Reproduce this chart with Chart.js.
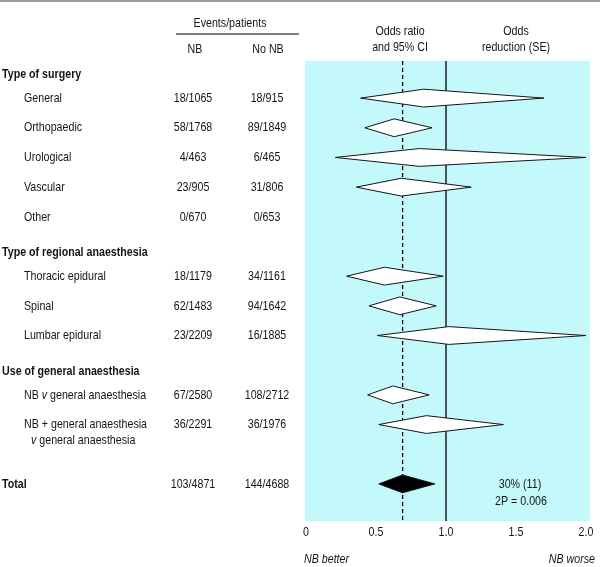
<!DOCTYPE html>
<html>
<head>
<meta charset="utf-8">
<script src="https://cdn.jsdelivr.net/npm/chart.js@4.4.0/dist/chart.umd.min.js"></script>
<style>
html, body { margin: 0; padding: 0; background: #fff; }
canvas { display: block; }
</style>
</head>
<body>
<canvas id="forestChart" width="600" height="567"></canvas>
<script>
// subgroup data
const groups = ['Type of surgery', 'Type of regional anaesthesia', 'Use of general anaesthesia'];
const groupSizes = [5, 3, 2];
const subgroups = ['General', 'Orthopaedic', 'Urological', 'Vascular', 'Other',
  'Thoracic epidural', 'Spinal', 'Lumbar epidural',
  'NB v general anaesthesia', 'NB + general anaesthesia\nv general anaesthesia'];
const nbEvents = ['18/1065', '58/1768', '4/463', '23/905', '0/670',
  '18/1179', '62/1483', '23/2209', '67/2580', '36/2291'];
const noNbEvents = ['18/915', '89/1849', '6/465', '31/806', '0/653',
  '34/1161', '94/1642', '16/1885', '108/2712', '36/1976'];
const orLow = [0.39, 0.42, 0.21, 0.36, null, 0.29, 0.45, 0.51, 0.44, 0.52];
const orMid = [0.84, 0.63, 0.81, 0.68, null, 0.56, 0.67, 1.02, 0.62, 0.86];
const orHigh = [1.70, 0.90, 2.00, 1.18, null, 0.98, 0.93, 2.00, 0.88, 1.41];

const totalNb = '103/4871';
const totalNoNb = '144/4688';
const totalOr = [0.52, 0.69, 0.92];
const totalReduction = ['30% (11)', '2P = 0.006'];
const xTicks = [0, 0.5, 1.0, 1.5, 2.0];

const FONT = '"Liberation Sans", Arial, sans-serif';
const SIZE = 13.5;
const NARROW = 0.79; // no narrow face installed, so squeeze the text
const INK = '#151515';
const Y_MIN = -0.25, Y_MAX = 15.25;
const DH = 0.3; // half height of a diamond, in rows

// row positions: header, its rows, then one blank row
const rowPos = [];
const headerPos = [];
let r = 0;
groupSizes.forEach(n => {
  headerPos.push(r + 0.2);
  for (let i = 0; i < n; i++) rowPos.push(++r);
  r++;
});
const totalPos = r + 1;

function diamond(lo, mid, hi, y, fillColor) {
  const line = { showLine: true, pointRadius: 0, borderColor: INK, borderWidth: 1, tension: 0, order: 0 };
  return [
    Object.assign({}, line, { data: [{x: lo, y}, {x: mid, y: y - DH}, {x: hi, y}], fill: false }),
    Object.assign({}, line, { data: [{x: lo, y}, {x: mid, y: y + DH}, {x: hi, y}], fill: '-1', backgroundColor: fillColor })
  ];
}

const datasets = [
  { data: [{x: 1, y: Y_MIN}, {x: 1, y: Y_MAX}], showLine: true, pointRadius: 0, borderColor: '#000', borderWidth: 1.3, order: 10 },
  { data: [{x: totalOr[1], y: Y_MIN}, {x: totalOr[1], y: Y_MAX}], showLine: true, pointRadius: 0, borderColor: '#000', borderWidth: 1.3, borderDash: [4, 3], order: 10 }
];
orMid.forEach((m, i) => {
  if (m == null) return;
  datasets.push(...diamond(orLow[i], m, orHigh[i], rowPos[i], '#ffffff'));
});
datasets.push(...diamond(totalOr[0], totalOr[1], totalOr[2], totalPos, '#000000'));

function text(ctx, s, x, y, style) {
  ctx.font = (style || '') + ' ' + SIZE + 'px ' + FONT;
  ctx.save();
  ctx.translate(x, y);
  ctx.scale(NARROW, 1);
  ctx.fillText(s, 0, 0);
  ctx.restore();
}

function drawWords(ctx, s, x, y) {
  // the "v" (versus) is set in italics
  let cx = x;
  s.split(' ').forEach((w, k, arr) => {
    const style = w === 'v' ? 'italic' : '';
    text(ctx, w, cx, y, style);
    ctx.font = style + ' ' + SIZE + 'px ' + FONT;
    cx += ctx.measureText(w + (k < arr.length - 1 ? ' ' : '')).width * NARROW;
  });
}

const tablePlugin = {
  id: 'table',
  beforeDraw(chart) {
    const {ctx, chartArea: a} = chart;
    ctx.save();
    ctx.fillStyle = '#c4f9fc';
    ctx.fillRect(a.left - 1, a.top, a.right - a.left + 5, a.bottom - a.top);
    ctx.restore();
  },
  afterDraw(chart) {
    const {ctx, chartArea: a} = chart;
    const xs = chart.scales.x, ys = chart.scales.y;
    ctx.save();
    ctx.strokeStyle = '#9a9a9a';
    ctx.lineWidth = 2;
    ctx.beginPath(); ctx.moveTo(0, 1); ctx.lineTo(600, 1); ctx.stroke();
    ctx.strokeStyle = '#555';
    ctx.lineWidth = 1.3;
    ctx.beginPath(); ctx.moveTo(176, 34); ctx.lineTo(299, 34); ctx.stroke();

    ctx.fillStyle = INK;
    ctx.textBaseline = 'middle';
    ctx.textAlign = 'center';
    text(ctx, 'Events/patients', 230, 23);
    text(ctx, 'NB', 195, 49);
    text(ctx, 'No NB', 268, 49);
    text(ctx, 'Odds ratio', 400, 31);
    text(ctx, 'and 95% CI', 400, 47);
    text(ctx, 'Odds', 516, 31);
    text(ctx, 'reduction (SE)', 516, 47);

    // tick labels, placed by the x scale
    xTicks.forEach(v => text(ctx, v === 0 ? '0' : v.toFixed(1), xs.getPixelForValue(v), a.bottom + 11));

    ctx.textAlign = 'left';
    groups.forEach((g, i) => text(ctx, g, 2, ys.getPixelForValue(headerPos[i]), 'bold'));
    text(ctx, 'Total', 2, ys.getPixelForValue(totalPos), 'bold');

    subgroups.forEach((s, i) => {
      const y = ys.getPixelForValue(rowPos[i]);
      ctx.textAlign = 'left';
      s.split('\n').forEach((ln, k) => drawWords(ctx, ln, k ? 31 : 24, y + 16 * k));
      ctx.textAlign = 'center';
      text(ctx, nbEvents[i], 193, y);
      text(ctx, noNbEvents[i], 267, y);
    });

    const ty = ys.getPixelForValue(totalPos);
    ctx.textAlign = 'center';
    text(ctx, totalNb, 193, ty);
    text(ctx, totalNoNb, 267, ty);
    text(ctx, totalReduction[0], 520, ty);
    text(ctx, totalReduction[1], 521, ty + 17);

    ctx.textAlign = 'left';
    text(ctx, 'NB better', a.left - 2, 559, 'italic');
    ctx.textAlign = 'right';
    text(ctx, 'NB worse', a.right + 9, 559, 'italic');
    ctx.restore();
  }
};

new Chart(document.getElementById('forestChart'), {
  type: 'scatter',
  data: { datasets },
  options: {
    responsive: false,
    animation: false,
    events: [],
    layout: { padding: { left: 306, right: 14, top: 61, bottom: 26 } },
    plugins: { legend: { display: false }, tooltip: { enabled: false } },
    scales: {
      x: {
        type: 'linear',
        min: 0,
        max: 2,
        grid: { display: false, drawTicks: false },
        border: { display: false },
        afterBuildTicks: scale => { scale.ticks = xTicks.map(v => ({ value: v })); },
        afterFit: scale => { scale.height = 20; },
        ticks: { display: false }
      },
      y: { display: false, reverse: true, min: Y_MIN, max: Y_MAX }
    }
  },
  plugins: [tablePlugin]
});
</script>
</body>
</html>
